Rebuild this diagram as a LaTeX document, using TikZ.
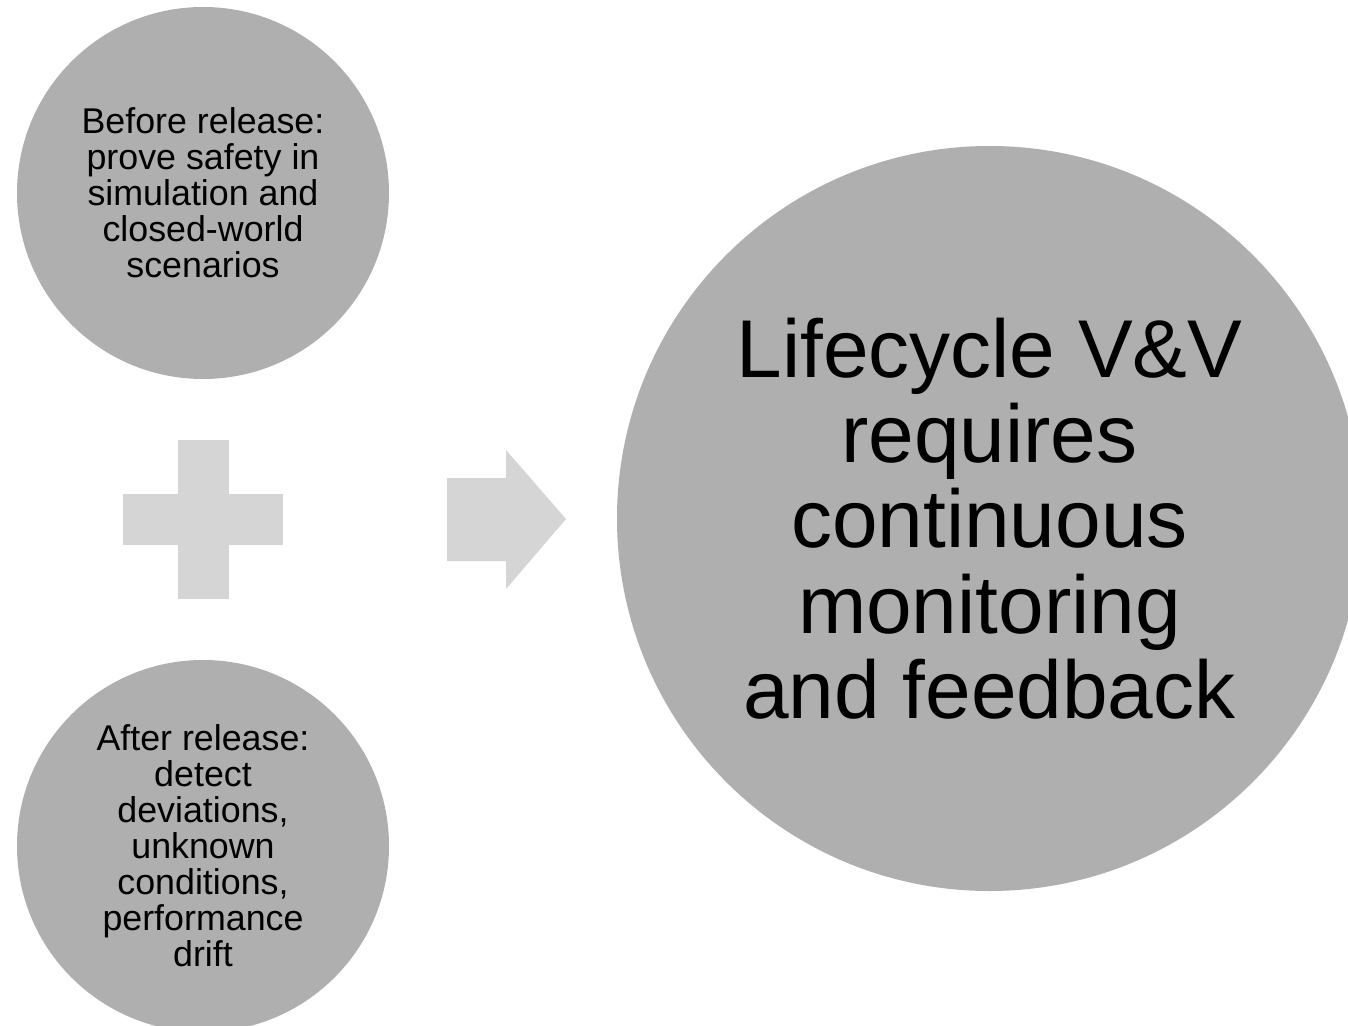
\documentclass[tikz,border=0pt]{standalone}
\usepackage{fontspec}
\setmainfont{Liberation Sans}
\definecolor{bubblegray}{RGB}{175,175,175}
\definecolor{signgray}{RGB}{213,213,213}

\begin{document}
\begin{tikzpicture}[x=0.5pt, y=-0.5pt,
		bubble/.style={circle, fill=bubblegray, inner sep=0pt, align=center, text=black},
		small/.style={bubble, minimum size=186pt, font=\fontsize{17.9}{18}\selectfont},
		big/.style={bubble, minimum size=372.5pt, font=\fontsize{41}{42.7}\selectfont},
		sign/.style={fill=signgray}]
				\useasboundingbox (0, 0) rectangle (1348, 1026);
				\fill[white] (0, 0) rectangle (1348, 1026);
				\clip (0, 0) rectangle (1348, 1026);
				\node[small] (before) at (203, 193) {Before release:\\prove safety in\\simulation and\\closed-world\\scenarios};
				\node[small] (after) at (203, 846) {After release:\\detect\\deviations,\\unknown\\conditions,\\performance\\drift};
				% plus
				\fill[sign] (178, 440) rectangle (229, 599);
				\fill[sign] (123, 494) rectangle (283, 545);
				% arrow
				\fill[sign] (447, 478) -- (506, 478) -- (506, 450) -- (566, 519) -- (506, 589) -- (506, 561) -- (447, 561) -- cycle;
				\node[big] (lifecycle) at (989.5, 518.5) {Lifecycle V\&V\\requires\\continuous\\monitoring\\and feedback};
			\end{tikzpicture}
\end{document}
